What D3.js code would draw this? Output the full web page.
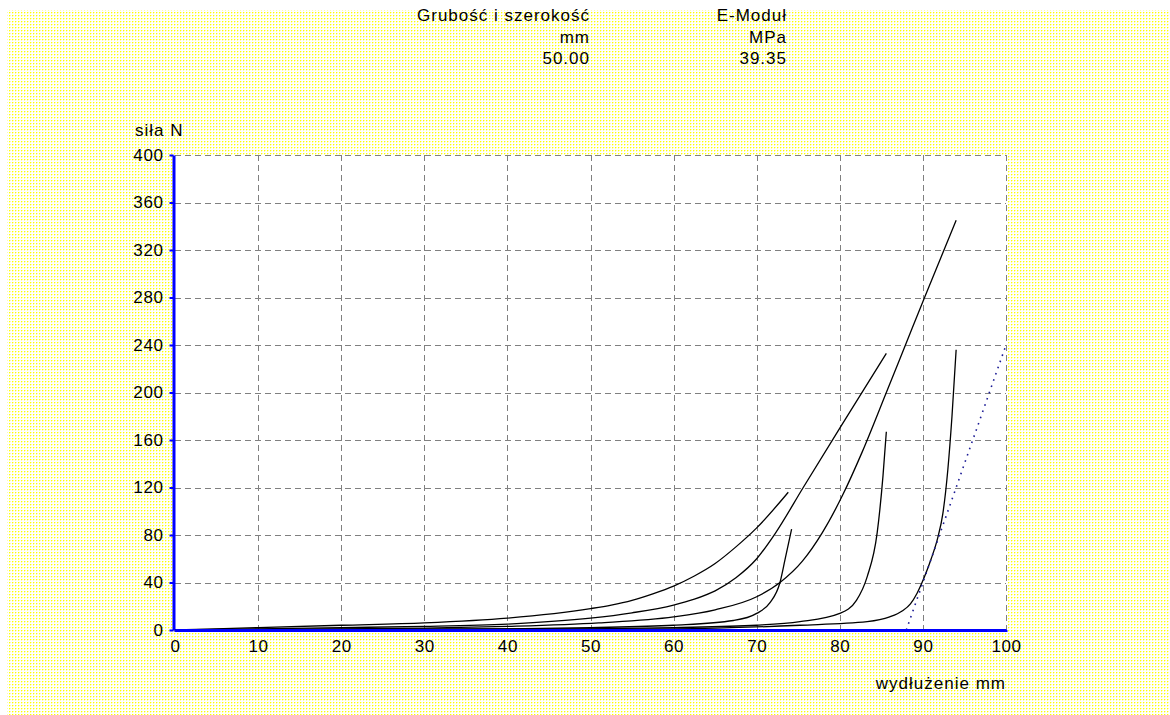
<!DOCTYPE html>
<html>
<head>
<meta charset="utf-8">
<script src="https://cdn.jsdelivr.net/npm/d3@7"></script>
<style>
  body { margin: 0; background: #fff; }
  text { font-family: "Liberation Sans", Arial, sans-serif; font-size: 17px; fill: #000; letter-spacing: 1px; }
</style>
</head>
<body>
<div id="wrapper"></div>
<script>
// Dane (wydłużenie mm, siła N)
const curveA = [[0,0],[10,2],[20,4],[30,6],[40,10],[50,18],[52.5,21],[55,25],[57.5,30.5],[60,37],[62.5,45.5],[65,56],[67.5,70],[70,86],[73.8,116]];
const curveB = [[0,0],[10,1],[20,2],[30,3],[40,5],[50,10],[55,14.5],[60,21],[62.5,26],[65,33],[67.5,44],[70,60],[72.2,81],[75.6,120],[80,170],[85.6,233]];
const curveC = [[0,0],[20,1],[30,1.5],[40,3],[51,6],[60,11],[65,17],[70,28],[72.8,40],[75.5,58],[77.9,82],[80.3,113],[82.7,150],[85.6,200],[87.9,240],[90.2,280],[94,345]];
const curveD = [[0,0],[40,1],[50,2],[60,4],[67.2,8],[70,14],[71.6,23],[72.8,40],[73.4,59],[74.2,85]];
const curveE = [[0,0],[50,1],[60,2],[70,4],[75.2,7],[80,14],[82,25],[83.3,45],[84.5,82],[85.2,130],[85.6,167]];
const curveF = [[0,0],[60,1],[75.2,4],[83.3,7],[86,11],[87.5,16],[88.5,22],[89.3,31],[90.2,45],[91,60],[91.8,78],[92.4,98],[93,135],[93.5,180],[94,236]];
const tangentLine = [[88,0],[100,240]];

const xTicks = [0, 10, 20, 30, 40, 50, 60, 70, 80, 90, 100];
const yTicks = [0, 40, 80, 120, 160, 200, 240, 280, 320, 360, 400];

const headerCols = [
  ["Grubość i szerokość", "mm", "50.00"],
  ["E-Moduł", "MPa", "39.35"]
];

const width = 1170, height = 715;
const plot = { left: 175, right: 1006, top: 155, bottom: 630 };

const svg = d3.select("#wrapper").append("svg")
  .attr("width", width)
  .attr("height", height);

// tło w kropki
const defs = svg.append("defs");
const pat = defs.append("pattern")
  .attr("id", "dots")
  .attr("patternUnits", "userSpaceOnUse")
  .attr("width", 3).attr("height", 3);
pat.append("rect").attr("width", 3).attr("height", 3).attr("fill", "#fff");
pat.append("rect").attr("x", 0).attr("y", 0).attr("width", 1).attr("height", 1).attr("fill", "#ffff00");
pat.append("rect").attr("x", 1).attr("y", 0).attr("width", 1).attr("height", 1).attr("fill", "#ffffa8");
pat.append("rect").attr("x", 0).attr("y", 1).attr("width", 1).attr("height", 1).attr("fill", "#ffffa8");

svg.append("rect").attr("x", 7).attr("y", 10)
  .attr("width", width - 7).attr("height", height - 10)
  .attr("fill", "url(#dots)");

const x = d3.scaleLinear().domain([0, 100]).range([plot.left, plot.right]);
const y = d3.scaleLinear().domain([0, 400]).range([plot.bottom, plot.top]);

// biały obszar wykresu
svg.append("rect")
  .attr("x", x(0)).attr("y", y(400))
  .attr("width", x(100) - x(0) + 1).attr("height", y(0) - y(400))
  .attr("fill", "#fff");

// nagłówek
const colRight = [590, 787];
headerCols.forEach((col, i) => {
  col.forEach((t, j) => {
    svg.append("text")
      .attr("x", colRight[i]).attr("y", 21 + j * 21.5)
      .attr("text-anchor", "end")
      .text(t);
  });
});

// siatka
const grid = svg.append("g")
  .attr("stroke", "#808080")
  .attr("stroke-width", 1)
  .attr("stroke-dasharray", "6,4")
  .attr("shape-rendering", "crispEdges");
grid.selectAll(".gx").data(xTicks.filter(d => d > 0)).enter()
  .append("line")
  .attr("x1", d => Math.round(x(d)) + 0.5).attr("x2", d => Math.round(x(d)) + 0.5)
  .attr("y1", y(400)).attr("y2", y(0));
grid.selectAll(".gy").data(yTicks.filter(d => d > 0)).enter()
  .append("line")
  .attr("y1", d => Math.round(y(d)) + 0.5).attr("y2", d => Math.round(y(d)) + 0.5)
  .attr("x1", x(0)).attr("x2", x(100));

// krzywe
const line = d3.line()
  .x(d => x(d[0]))
  .y(d => y(d[1]))
  .curve(d3.curveMonotoneX);

svg.append("g")
  .selectAll("path")
  .data([curveA, curveB, curveC, curveD, curveE, curveF])
  .enter()
  .append("path")
  .attr("d", d => line(d))
  .attr("fill", "none")
  .attr("stroke", "#000")
  .attr("stroke-width", 1.3);

svg.append("path")
  .attr("d", d3.line().x(d => x(d[0])).y(d => y(d[1]))(tangentLine))
  .attr("fill", "none")
  .attr("stroke", "#1c1c96")
  .attr("stroke-width", 1.6)
  .attr("stroke-dasharray", "1.6,5");

// osie
const yAxis = d3.axisLeft(y).tickValues(yTicks).tickSize(4).tickSizeOuter(0).tickPadding(6);
const xAxis = d3.axisBottom(x).tickValues(xTicks).tickSize(2).tickSizeOuter(0).tickPadding(8);

const gy = svg.append("g").attr("transform", "translate(" + (plot.left - 1.5) + ",0)").call(yAxis);
const gx = svg.append("g").attr("transform", "translate(0," + (plot.bottom) + ")").call(xAxis);

[gy, gx].forEach(g => {
  g.select(".domain").attr("stroke", "#0000ff").attr("stroke-width", 3);
  g.selectAll(".tick line").attr("stroke", "#0000ff").attr("stroke-width", 2);
  g.selectAll(".tick text")
    .attr("fill", "#000")
    .style("font-size", "17px")
    .style("letter-spacing", "0.6px")
    .style("font-family", '"Liberation Sans", Arial, sans-serif');
});

// tytuły osi
svg.append("text").attr("x", 135).attr("y", 136).text("siła N");
svg.append("text").attr("x", 1006).attr("y", 689).attr("text-anchor", "end").text("wydłużenie mm");
</script>
</body>
</html>
